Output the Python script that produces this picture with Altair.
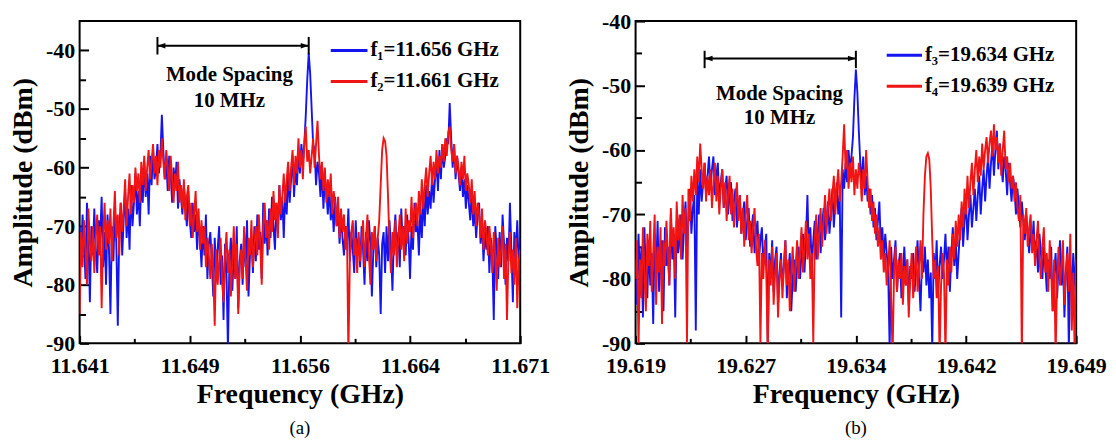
import json
import altair as alt
import pandas as pd

FONT = "Liberation Serif"
BLUE = "#1414f0"
RED = "#f01414"
STEP = 0.0001
SPAN = 0.03

A_START = 11.641
B_START = 19.619

A_BLUE = [
    -70, -76, -68, -73, -79, -66, -72, -83, -70, -75,
    -67, -74, -78, -69, -72, -65, -77, -71, -80, -68,
    -74, -85, -70, -76, -67, -73, -87, -71, -66, -75,
    -69, -64, -72, -67, -74, -63, -70, -66, -61, -68,
    -64, -70, -62, -66, -59, -65, -61, -68, -58, -63,
    -57, -62, -60, -56, -61, -58, -51, -57, -62, -59,
    -64, -58, -61, -66, -60, -63, -59, -67, -62, -65,
    -68, -63, -66, -70, -64, -69, -72, -66, -71, -68,
    -74, -69, -72, -77, -70, -75, -68, -79, -73, -71,
    -76, -82, -72, -78, -74, -70, -80, -75, -86, -73,
    -78, -91, -76, -72, -81, -74, -79, -70, -84, -76,
    -73, -80, -71, -77, -69, -82, -75, -72, -78, -70,
    -76, -68, -74, -71, -79, -66, -73, -69, -75, -67,
    -72, -65, -70, -74, -66, -71, -63, -69, -65, -72,
    -64, -68, -61, -66, -62, -58, -65, -60, -63, -57,
    -61, -56, -59, -56, -51, -45, -40.5, -44, -50, -56,
    -57, -63, -59, -61, -65, -60, -67, -62, -64, -68,
    -63, -69, -66, -71, -65, -70, -67, -73, -68, -72,
    -75, -70, -73, -67, -76, -71, -74, -78, -69, -75,
    -72, -77, -70, -74, -80, -71, -76, -69, -73, -82,
    -74, -70, -77, -72, -75, -85, -73, -71, -78, -70,
    -76, -69, -74, -81, -72, -68, -75, -71, -77, -67,
    -73, -70, -75, -68, -72, -79, -70, -74, -66, -71,
    -69, -75, -67, -72, -65, -70, -63, -68, -64, -67,
    -61, -66, -62, -59, -64, -57, -62, -56, -60, -58,
    -55, -56, -49, -55, -60, -56, -62, -58, -61, -64,
    -60, -65, -62, -67, -63, -66, -69, -64, -70, -67,
    -72, -68, -66, -73, -69, -76, -71, -74, -70, -78,
    -72, -75, -86, -70, -74, -79, -71, -77, -68, -73,
    -80, -72, -76, -66, -74, -83, -71, -75, -69, -77,
    -72,
]
A_RED = [
    -85, -71, -77, -69, -74, -80, -67, -73, -76, -70,
    -78, -72, -68, -75, -70, -84, -72, -66, -74, -69,
    -73, -67, -76, -70, -64, -72, -68, -75, -66, -71,
    -67, -62, -70, -65, -61, -68, -63, -66, -60, -64,
    -61, -66, -59, -63, -58, -64, -60, -57, -62, -59,
    -56, -61, -58, -63, -57, -60, -55, -59, -62, -57,
    -60, -64, -58, -62, -66, -61, -64, -59, -66, -63,
    -67, -62, -69, -65, -63, -70, -66, -72, -68, -64,
    -71, -67, -74, -69, -73, -70, -77, -72, -75, -79,
    -73, -78, -87, -74, -80, -76, -72, -79, -83, -75,
    -71, -78, -74, -82, -76, -70, -79, -73, -85, -77,
    -74, -79, -70, -76, -81, -72, -75, -69, -77, -73,
    -70, -75, -68, -73, -80, -70, -66, -72, -69, -74,
    -67, -71, -64, -69, -66, -72, -63, -68, -65, -61,
    -66, -62, -59, -64, -60, -57, -63, -58, -61, -55,
    -60, -57, -62, -56, -53, -59, -57, -61, -58, -55,
    -60, -56, -52, -58, -62, -59, -64, -60, -66, -62,
    -65, -61, -68, -64, -66, -70, -65, -72, -67, -71,
    -68, -74, -70, -92, -76, -71, -69, -75, -72, -78,
    -71, -76, -73, -69, -77, -72, -68, -75, -80, -71,
    -74, -70, -76, -72, -69, -63, -57, -55, -55.5, -58,
    -65, -73, -78, -71, -75, -69, -77, -72, -68, -74,
    -70, -76, -67, -73, -69, -71, -65, -72, -68, -66,
    -70, -64, -68, -62, -67, -63, -60, -65, -61, -58,
    -63, -59, -62, -57, -61, -58, -60, -56, -59, -55,
    -58, -54, -53, -57, -59, -56, -61, -58, -60, -63,
    -59, -62, -58, -64, -61, -63, -66, -62, -68, -64,
    -70, -66, -68, -72, -67, -74, -69, -71, -75, -70,
    -73, -78, -71, -75, -81, -72, -77, -74, -70, -79,
    -73, -86, -75, -71, -78, -74, -80, -72, -84, -76,
    -74,
]
B_BLUE = [
    -77, -84, -73, -80, -75, -86, -72, -79, -83, -74,
    -81, -76, -87, -73, -79, -71, -82, -77, -74, -85,
    -72, -78, -75, -81, -70, -77, -73, -86, -71, -76,
    -74, -70, -77, -72, -68, -75, -71, -66, -73, -69,
    -67, -88, -64, -70, -63, -68, -65, -62, -67, -64,
    -61, -66, -63, -61, -67, -64, -62, -68, -65, -63,
    -69, -66, -64, -70, -67, -65, -71, -68, -66, -72,
    -69, -67, -73, -70, -68, -74, -71, -69, -75, -72,
    -70, -76, -73, -71, -77, -74, -72, -78, -75, -73,
    -90, -76, -80, -74, -82, -77, -75, -84, -79, -76,
    -81, -78, -74, -83, -79, -76, -85, -80, -77, -82,
    -78, -75, -80, -76, -73, -79, -74, -67, -76, -72,
    -78, -74, -71, -77, -73, -70, -76, -72, -69, -74,
    -71, -68, -73, -70, -66, -72, -68, -65, -70, -67,
    -86, -63, -66, -62, -65, -60, -63, -61, -58, -52,
    -47.5, -51, -57, -62, -65, -61, -67, -64, -68, -66,
    -70, -67, -72, -69, -74, -71, -68, -75, -72, -77,
    -73, -76, -79, -91, -75, -80, -77, -74, -82, -78,
    -76, -83, -79, -75, -81, -77, -84, -78, -80, -76,
    -82, -78, -74, -80, -85, -77, -79, -75, -81, -77,
    -83, -79, -91, -76, -80, -74, -82, -78, -75, -80,
    -77, -73, -79, -75, -82, -76, -72, -78, -74, -80,
    -76, -72, -69, -75, -71, -68, -74, -70, -67, -72,
    -69, -66, -71, -67, -64, -70, -66, -63, -68, -64,
    -61, -66, -62, -59, -64, -60, -57, -63, -59, -62,
    -65, -61, -63, -67, -62, -65, -68, -64, -66, -70,
    -66, -69, -72, -68, -71, -74, -70, -73, -76, -72,
    -75, -71, -77, -74, -79, -73, -76, -80, -75, -78,
    -82, -77, -80, -75, -85, -79, -76, -83, -78, -74,
    -81, -77, -86, -79, -75, -91, -78, -82, -76, -80,
    -84,
]
B_RED = [
    -80, -74, -91, -77, -83, -72, -79, -85, -73, -78,
    -71, -82, -76, -70, -84, -75, -79, -72, -87, -74,
    -78, -71, -76, -81, -69, -75, -72, -80, -68, -74,
    -70, -77, -67, -73, -69, -90, -66, -71, -64, -68,
    -63, -67, -61, -65, -59, -63, -66, -62, -68, -64,
    -67, -63, -69, -65, -62, -68, -64, -70, -66, -63,
    -69, -65, -71, -67, -64, -70, -66, -72, -68, -65,
    -71, -67, -73, -69, -75, -70, -67, -74, -71, -76,
    -72, -69, -75, -78, -73, -90, -76, -80, -74, -79,
    -92, -77, -81, -75, -84, -79, -76, -86, -80, -77,
    -83, -78, -74, -81, -77, -85, -79, -75, -82, -78,
    -74, -80, -76, -72, -79, -75, -71, -77, -73, -80,
    -76, -90, -74, -70, -77, -73, -69, -75, -71, -67,
    -73, -69, -66, -71, -67, -64, -70, -66, -63, -68,
    -65, -61, -56, -63, -60, -66, -62, -65, -61, -67,
    -63, -66, -62, -64, -68, -63, -66, -60, -65, -69,
    -66, -71, -68, -73, -70, -75, -72, -77, -74, -79,
    -76, -81, -78, -74, -83, -92, -79, -75, -82, -77,
    -80, -76, -84, -78, -81, -77, -86, -80, -76, -83,
    -79, -75, -82, -78, -74, -80, -70, -64, -61, -60.5,
    -61.5, -66, -74, -80, -77, -83, -78, -92, -81, -76,
    -79, -92, -77, -81, -75, -79, -73, -77, -71, -75,
    -70, -74, -68, -72, -66, -70, -64, -69, -65, -62,
    -67, -63, -60, -65, -61, -64, -59, -63, -60, -58,
    -62, -59, -57, -61, -56, -60, -58, -62, -59, -64,
    -60, -57, -63, -61, -65, -62, -66, -64, -68, -65,
    -69, -71, -67, -92, -70, -73, -69, -75, -72, -70,
    -76, -73, -78, -74, -71, -77, -80, -75, -72, -79,
    -76, -82, -74, -79, -85, -77, -92, -80, -75, -81,
    -78, -74, -84, -79, -76, -82, -73, -88, -79, -92,
    -77,
]

A_XLABELS = ["11.641", "11.649", "11.656", "11.664", "11.671"]
B_XLABELS = ["19.619", "19.627", "19.634", "19.642", "19.649"]
A_YDOMAIN = [-90, -35]
B_YDOMAIN = [-90, -40]
Y_MAJOR = [-90, -80, -70, -60, -50, -40]
Y_MINOR = [-85, -75, -65, -55, -45]
A_LEGEND = ["f\u2081=11.656 GHz", "f\u2082=11.661 GHz"]
B_LEGEND = ["f\u2083=19.634 GHz", "f\u2084=19.639 GHz"]
NOTE_LINES = ["Mode Spacing", "10 MHz"]

A_ARROW = dict(x1=11.6463, x2=11.6566, y=-39.2, ytop=-37.7, ybot=-40.7)
A_NOTE = dict(x=11.6512, y=[-44.2, -48.7])
A_LEG = dict(x1=11.6581, x2=11.6606, xt=11.6608, y=[-40.0, -45.3])
B_ARROW = dict(x1=19.6237, x2=19.6340, y=-45.8, ytop=-44.6, ybot=-47.3)
B_NOTE = dict(x=19.6288, y=[-51.3, -55.1])
B_LEG = dict(x1=19.6361, x2=19.6385, xt=19.6387, y=[-45.3, -50.1])


def tick_axis(orient, vals, size):
    return alt.Axis(orient=orient, values=vals, labels=False, domain=False, grid=False,
                    ticks=True, tickSize=size, tickWidth=2, tickColor="black",
                    offset=-size, title=None)


def panel(start, blue, red, xlabels, ydom, arrow, note, leg, legend_labels, caption):
    dfb = pd.DataFrame({"f": [start + STEP * i for i in range(len(blue))], "a": blue})
    dfr = pd.DataFrame({"f": [start + STEP * i for i in range(len(red))], "a": red})
    xs = alt.Scale(domain=[start, start + SPAN], nice=False, zero=False)
    ys = alt.Scale(domain=ydom, nice=False, zero=False)
    xmaj = [round(start + 0.0075 * k, 6) for k in range(5)]
    xmin = [round(start + 0.00375 + 0.0075 * k, 6) for k in range(4)]
    label_expr = f"{json.dumps(xlabels)}[round((datum.value - {start}) / 0.0075)]"

    x_lab = alt.Axis(orient="bottom", values=xmaj, labelExpr=label_expr, ticks=False,
                     domain=False, grid=False, labelFont=FONT, labelFontSize=22,
                     labelFontWeight="bold", labelColor="black", labelPadding=12,
                     labelFlush=False, labelOverlap=False, title="Frequency (GHz)",
                     titleFont=FONT, titleFontSize=28, titleFontWeight="bold",
                     titleColor="black", titlePadding=4)
    y_lab = alt.Axis(orient="left", values=Y_MAJOR, labelExpr="'' + datum.value",
                     ticks=False, domain=False, grid=False, labelFont=FONT,
                     labelFontSize=22, labelFontWeight="bold", labelColor="black",
                     labelPadding=5, labelOverlap=False, title="Amplitude (dBm)",
                     titleFont=FONT, titleFontSize=28, titleFontWeight="bold",
                     titleColor="black", titlePadding=8)

    def X(field, axis=None):
        return alt.X(field, type="quantitative", scale=xs, axis=axis)

    def Y(field, axis=None):
        return alt.Y(field, type="quantitative", scale=ys, axis=axis)

    blue_line = alt.Chart(dfb).mark_line(color=BLUE, strokeWidth=1.9, clip=True).encode(
        x=X("f", x_lab), y=Y("a", y_lab))
    red_line = alt.Chart(dfr).mark_line(color=RED, strokeWidth=1.9, clip=True).encode(
        x=X("f"), y=Y("a"))
    maj = alt.Chart(dfb).mark_line(strokeOpacity=0, clip=True).encode(
        x=X("f", tick_axis("bottom", xmaj, 8)), y=Y("a", tick_axis("left", Y_MAJOR, 9)))
    mnr = alt.Chart(dfb).mark_line(strokeOpacity=0, clip=True).encode(
        x=X("f", tick_axis("bottom", xmin, 5)), y=Y("a", tick_axis("left", Y_MINOR, 6)))

    arr_df = pd.DataFrame({"x1": [arrow["x1"]], "x2": [arrow["x2"]], "y": [arrow["y"]]})
    arr = alt.Chart(arr_df).mark_rule(color="black", strokeWidth=2).encode(
        x=X("x1"), x2="x2", y=Y("y"))
    bars_df = pd.DataFrame({"x": [arrow["x1"], arrow["x2"]],
                            "yt": [arrow["ytop"]] * 2, "yb": [arrow["ybot"]] * 2})
    bars = alt.Chart(bars_df).mark_rule(color="black", strokeWidth=2).encode(
        x=X("x"), y=Y("yt"), y2="yb")
    hl_df = pd.DataFrame({"x": [arrow["x1"]], "y": [arrow["y"]]})
    hr_df = pd.DataFrame({"x": [arrow["x2"]], "y": [arrow["y"]]})
    head_l = alt.Chart(hl_df).mark_point(shape="M0,0 L1,-0.35 L1,0.35 Z", size=256,
                                         filled=True, color="black", opacity=1).encode(
        x=X("x"), y=Y("y"))
    head_r = alt.Chart(hr_df).mark_point(shape="M0,0 L-1,-0.35 L-1,0.35 Z", size=256,
                                         filled=True, color="black", opacity=1).encode(
        x=X("x"), y=Y("y"))

    note_df = pd.DataFrame({"x": [note["x"]] * 2, "y": note["y"], "t": NOTE_LINES})
    notes = alt.Chart(note_df).mark_text(font=FONT, fontSize=21, fontWeight="bold",
                                         color="black", baseline="middle").encode(
        x=X("x"), y=Y("y"), text="t:N")

    leg_df = pd.DataFrame({"x1": [leg["x1"]] * 2, "x2": [leg["x2"]] * 2,
                           "xt": [leg["xt"]] * 2, "y": leg["y"], "t": legend_labels,
                           "c": [BLUE, RED]})
    leg_lines = alt.Chart(leg_df).mark_rule(strokeWidth=3).encode(
        x=X("x1"), x2="x2", y=Y("y"), color=alt.Color("c:N", scale=None))
    leg_text = alt.Chart(leg_df).mark_text(font=FONT, fontSize=21, fontWeight="bold",
                                           color="black", align="left",
                                           baseline="middle").encode(
        x=X("xt"), y=Y("y"), text="t:N")

    return alt.layer(blue_line, red_line, maj, mnr, arr, bars, head_l, head_r, notes,
                     leg_lines, leg_text).resolve_axis(
        x="independent", y="independent").properties(
        width=443, height=324,
        title=alt.TitleParams(caption, orient="bottom", font=FONT, fontSize=19,
                              fontWeight="normal", color="black", offset=11))


pa = panel(A_START, A_BLUE, A_RED, A_XLABELS, A_YDOMAIN, A_ARROW, A_NOTE, A_LEG,
           A_LEGEND, "(a)")
pb = panel(B_START, B_BLUE, B_RED, B_XLABELS, B_YDOMAIN, B_ARROW, B_NOTE, B_LEG,
           B_LEGEND, "(b)")

chart = alt.hconcat(pa, pb, spacing=116, bounds="flush").properties(
    padding={"left": 0, "top": 0, "right": 0, "bottom": 0}
).configure_view(stroke="black", strokeWidth=2)

chart.save("out.html", embed_options={"renderer": "svg", "actions": False})
